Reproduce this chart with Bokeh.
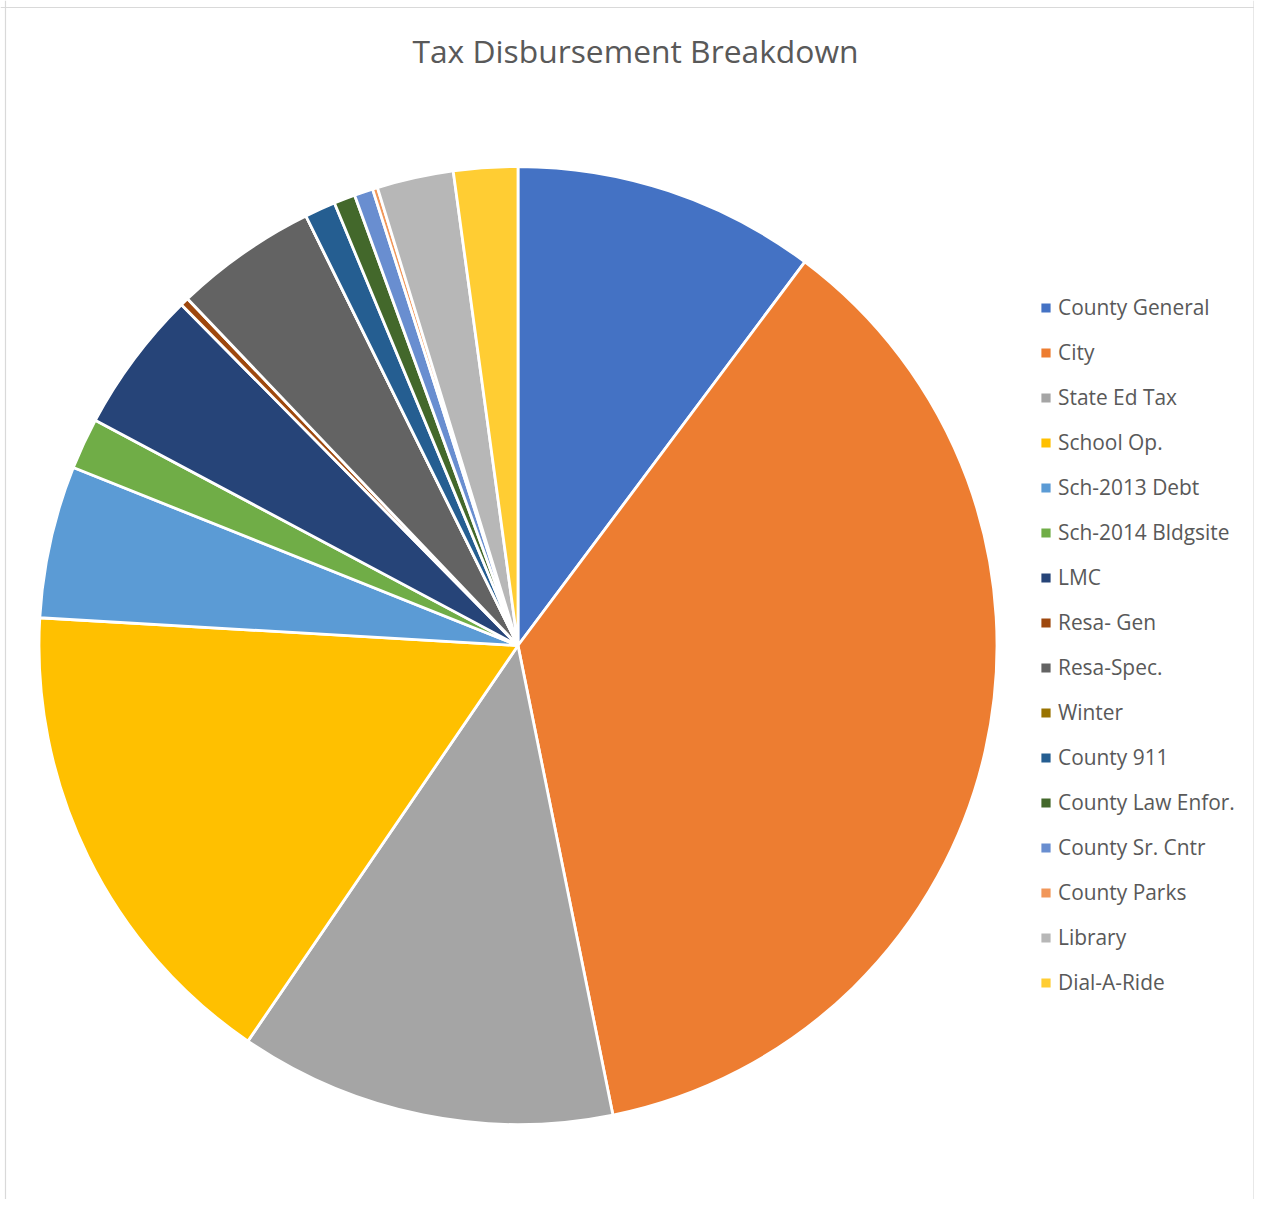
import numpy as np
from bokeh.plotting import figure
from bokeh.models import ColumnDataSource, Range1d, Label, Span
from bokeh.embed import file_html
from bokeh.resources import INLINE

# ---- data (percent of total disbursement) ----
categories = ["County General", "City", "State Ed Tax", "School Op.", "Sch-2013 Debt",
              "Sch-2014 Bldgsite", "LMC", "Resa- Gen", "Resa-Spec.", "Winter",
              "County 911", "County Law Enfor.", "County Sr. Cntr", "County Parks",
              "Library", "Dial-A-Ride"]
shares = [10.22, 36.61, 12.71, 16.39, 5.14, 1.73, 4.81, 0.28, 4.82, 0.0,
          1.04, 0.72, 0.63, 0.17, 2.58, 2.16]
colors = ["#4472C4", "#ED7D31", "#A5A5A5", "#FFC000", "#5B9BD5", "#70AD47",
          "#264478", "#9E480E", "#636363", "#997300", "#255E91", "#43682B",
          "#698ED0", "#F1975A", "#B7B7B7", "#FFCD33"]
title_text = "Tax Disbursement Breakdown"

W, H = 1254, 1199
FONT = "Open Sans"
TXT = "#595959"

p = figure(width=W, height=H, x_range=Range1d(0, W), y_range=Range1d(0, H),
           output_backend="svg", toolbar_location=None, tools="", min_border=0)
p.axis.visible = False
p.grid.visible = False
p.outline_line_color = None
p.background_fill_color = "white"
p.border_fill_color = "white"

frac = np.array(shares, dtype=float) / float(np.sum(shares))
ends = np.cumsum(frac)
starts = ends - frac
start_ang = np.pi / 2 - 2 * np.pi * starts
end_ang = np.pi / 2 - 2 * np.pi * ends
# an empty slice must not be drawn as a full circle: give it a hair-thin sweep
end_ang = np.where(frac > 0, end_ang, start_ang - 1e-4)
src = ColumnDataSource(dict(
    category=categories,
    value=shares,
    start=start_ang,
    end=end_ang,
    color=colors,
))

p.wedge(x=517.5, y=554, radius=479, start_angle="start", end_angle="end",
        direction="clock", fill_color="color", line_color="white", line_width=2.8,
        source=src, legend_field="category")

lg = p.legend[0]
lg.location = (1038, 203)
lg.label_text_font = FONT
lg.label_text_font_size = "20.9px"
lg.label_text_color = TXT
lg.glyph_width = 15
lg.glyph_height = 15
lg.label_standoff = 5
lg.label_height = 20
lg.spacing = 17
lg.padding = 0
lg.margin = 0
lg.border_line_color = None
lg.background_fill_alpha = 0

p.add_layout(Label(x=635, y=1149, text=title_text, text_align="center",
                   text_baseline="alphabetic", text_font=FONT,
                   text_font_size="31.8px", text_color=TXT))

for loc, dim in [(5, "height"), (W - 0.5, "height"), (H - 7, "width")]:
    p.add_layout(Span(location=loc, dimension=dim, line_color="#D9D9D9", line_width=1.2))

open("out.html", "w").write(file_html(p, INLINE))
